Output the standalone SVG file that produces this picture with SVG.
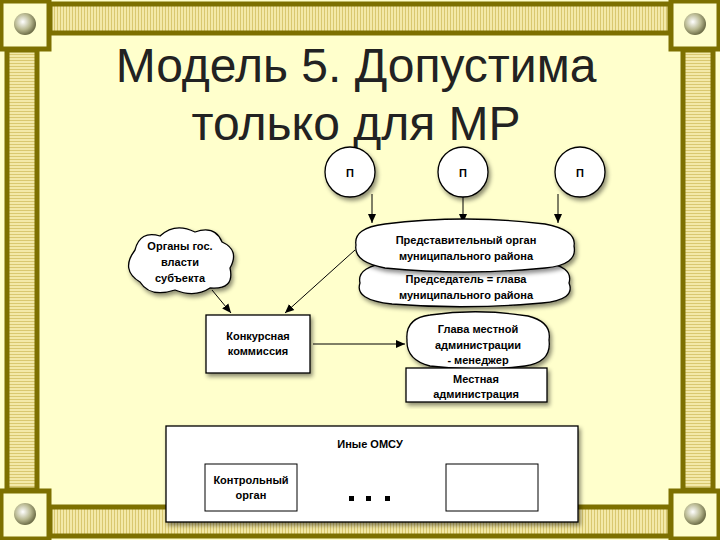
<svg xmlns="http://www.w3.org/2000/svg" width="720" height="540" viewBox="0 0 720 540">
<defs>
<pattern id="st" width="3" height="3" patternUnits="userSpaceOnUse"><rect width="3" height="3" fill="#f3e9a8"/><rect width="1" height="3" fill="#d9c870"/></pattern>
<pattern id="sth" width="3" height="3" patternUnits="userSpaceOnUse"><rect width="3" height="3" fill="#f3e9a8"/><rect width="3" height="1" fill="#d9c870"/></pattern>
<radialGradient id="ball" cx="0.4" cy="0.4" r="0.6"><stop offset="0" stop-color="#ffffff"/><stop offset="0.6" stop-color="#b8b890"/><stop offset="1" stop-color="#70704a"/></radialGradient>
<filter id="sh" x="-20%" y="-20%" width="140%" height="140%"><feDropShadow dx="2" dy="3" stdDeviation="2" flood-color="#000" flood-opacity="0.45"/></filter>
<marker id="ar" markerWidth="10" markerHeight="10" refX="9" refY="5" orient="auto" markerUnits="userSpaceOnUse"><path d="M0,1 L9,5 L0,9 Z" fill="#000"/></marker>
<g id="corner"><rect x="1" y="1" width="48" height="48" fill="#ffffd0" stroke="#7d7000" stroke-width="5"/><circle cx="25" cy="24" r="11" fill="url(#ball)"/></g>
</defs>
<style>
.t{font-family:"Liberation Sans",Arial,sans-serif;font-weight:bold;font-size:11px;fill:#000;text-anchor:middle}
.ttl{font-family:"Liberation Sans",Arial,sans-serif;font-size:48px;fill:#222;text-anchor:middle}
.n{fill:#fff;stroke:#000;stroke-width:1.3;filter:url(#sh)}
.c{stroke:#000;stroke-width:1;fill:none;marker-end:url(#ar)}
</style>
<rect width="720" height="540" fill="#ffffcc"/>
<g id="frame">
<rect x="50" y="4" width="620" height="29" fill="url(#st)" stroke="#7d7000" stroke-width="5"/>
<rect x="50" y="507" width="620" height="29" fill="url(#st)" stroke="#7d7000" stroke-width="5"/>
<rect x="7" y="50" width="30" height="440" fill="url(#sth)" stroke="#7d7000" stroke-width="5"/>
<rect x="683" y="50" width="30" height="440" fill="url(#sth)" stroke="#7d7000" stroke-width="5"/>
<use href="#corner"/><use href="#corner" x="670"/><use href="#corner" y="490"/><use href="#corner" x="670" y="490"/>
</g>
<text class="ttl" x="356" y="82">Модель 5. Допустима</text>
<text class="ttl" x="356" y="140">только для МР</text>
<g id="connectors">
<line class="c" x1="372" y1="194" x2="372" y2="223"/>
<line class="c" x1="463" y1="197" x2="463" y2="223"/>
<line class="c" x1="558" y1="194" x2="558" y2="223"/>
<line class="c" x1="355" y1="250" x2="285" y2="313"/>
<line class="c" x1="212" y1="290" x2="231" y2="313"/>
<line class="c" x1="313" y1="344" x2="405" y2="344"/>
</g>
<g id="p1"><circle class="n" cx="350" cy="172" r="25"/><text class="t" x="350" y="177">П</text></g>
<g id="p2"><circle class="n" cx="463" cy="172" r="25"/><text class="t" x="463" y="177">П</text></g>
<g id="p3"><circle class="n" cx="580" cy="172" r="25"/><text class="t" x="580" y="177">П</text></g>
<g id="gos"><path class="n" d="M135,250 Q140,230 160,236 Q175,222 195,232 Q215,225 222,242 Q240,250 230,268 Q235,290 210,288 Q195,298 175,290 Q150,298 140,282 Q120,270 135,250 Z"/>
<text class="t" x="180" y="250">Органы гос.</text><text class="t" x="180" y="266">власти</text><text class="t" x="180" y="282">субъекта</text></g>
<g id="chair"><path class="n" d="M360,283 Q356,266 392,262 Q465,254 542,262 Q574,266 569,283 Q576,300 542,303 Q465,310 392,304 Q354,300 360,283 Z"/>
<text class="t" x="466" y="283">Председатель = глава</text><text class="t" x="466" y="299">муниципального района</text></g>
<g id="rep"><path class="n" d="M356,245 Q353,228 385,224 Q465,214 545,224 Q577,230 574,246 Q578,265 545,268 Q465,276 385,268 Q353,262 356,245 Z"/>
<text class="t" x="466" y="244">Представительный орган</text><text class="t" x="466" y="260">муниципального района</text></g>
<g id="komis"><rect class="n" x="206" y="315" width="104" height="58"/><text class="t" x="258" y="340">Конкурсная</text><text class="t" x="258" y="355">коммиссия</text></g>
<g id="glava"><path class="n" d="M407,340 Q405,318 430,315 Q478,308 528,316 Q552,322 549,340 Q552,362 525,366 Q478,372 430,366 Q406,360 407,340 Z"/>
<text class="t" x="478" y="333">Глава местной</text><text class="t" x="478" y="349">администрации</text><text class="t" x="478" y="364">- менеджер</text></g>
<g id="adm"><rect class="n" x="406" y="368" width="141" height="34"/><text class="t" x="476" y="383">Местная</text><text class="t" x="476" y="398">администрация</text></g>
<g id="omsu"><rect class="n" x="166" y="426" width="412" height="96"/>
<text class="t" x="370" y="448">Иные ОМСУ</text>
<rect x="205" y="464" width="92" height="47" fill="#fff" stroke="#000" stroke-width="1"/>
<text class="t" x="251" y="484">Контрольный</text><text class="t" x="251" y="499">орган</text>
<rect x="446" y="464" width="92" height="47" fill="#fff" stroke="#000" stroke-width="1"/>
<rect x="349" y="496" width="5" height="5"/><rect x="366" y="496" width="5" height="5"/><rect x="385" y="496" width="5" height="5"/></g>
</svg>
